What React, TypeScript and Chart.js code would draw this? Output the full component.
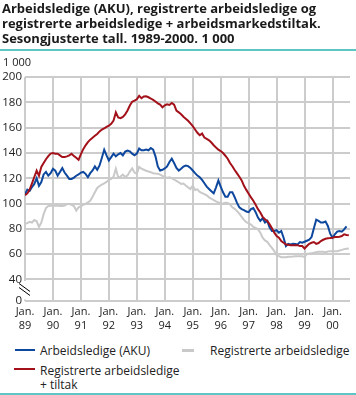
import React, { useEffect, useRef } from 'react';
import { Chart, registerables } from 'chart.js';

Chart.register(...registerables);

// Monthly series, first value = January 1989 (index = months since Jan. 1989)
const xTickYears = ['89', '90', '91', '92', '93', '94', '95', '96', '97', '98', '99', '00'];
const yTickValues = [40, 60, 80, 100, 120, 140, 160, 180, 200];
const axisFloor = 23; // broken axis: bottom line stands for 0
const lastMonth = 139.5;

const akuValues = [
  107.5, 111, 110, 113, 115.5, 120, 114, 117, 123, 125, 122, 124,
  127.5, 126, 122, 125, 128, 124.5, 122, 119.5, 119.5, 120.5, 122, 123,
  124.5, 125, 123.5, 120.8, 124, 126.1, 129.3, 126.7, 130.1, 136.2, 142.5, 138.1,
  134.1, 136.7, 139.4, 137.3, 138.9, 139.9, 138.1, 141, 141.8, 141.3, 139.4, 138.1,
  139.4, 143.4, 142.1, 142.1, 142.6, 142.1, 143.9, 142.6, 137.3, 129.3, 126.1, 126.7,
  127.7, 129.3, 132.8, 135.4, 132, 128.2, 126.1, 127.5, 129.3, 130.1, 129.6, 128.2,
  126.1, 124, 122.1, 120.8, 118.7, 116, 113.4, 111.5, 109.7, 108.1, 112.8, 118.2,
  113.4, 108.9, 105.4, 105.4, 109, 109, 105, 100.5, 97, 95.6, 94.8, 93.7,
  93.2, 95.6, 96.4, 93.2, 88.9, 86.3, 88.4, 85, 86.3, 81, 78.3, 78.3,
  78.9, 77, 78.3, 73, 66.4, 68.2, 67.7, 68.2, 68, 67.7, 69.6, 69,
  69.8, 70.6, 71.4, 73.5, 80.4, 87.3, 86.3, 85, 85, 85.8, 82.3, 76.2,
  73, 75.7, 77.8, 78.3, 77.8, 79.6, 82,
];

const tiltakValues = [
  106.5, 108, 111, 116, 121, 126, 122, 129, 132, 135, 137.5, 139.5,
  139.9, 139.4, 139.4, 138.1, 136.7, 136.7, 137.3, 138.1, 139.4, 137.5, 136.2, 134.5,
  139, 143, 146, 148.5, 150.5, 152, 153.5, 155, 157, 158.5, 159.5, 160.5,
  161.5, 163, 165.5, 172, 168, 167.5, 168.5, 170.5, 173.5, 177.5, 180.5,
  181.4, 182.4, 185.1, 183.2, 184.6, 184.8, 184, 183, 181.9, 180.6, 179.2, 178.2,
  176, 177.6, 178.4, 177.9, 179.5, 178.2, 173.4, 172.1, 170.5, 168.6, 167, 165.4,
  163.3, 161.2, 158.5, 155.9, 154, 155.3, 152.1, 151.1, 150, 148.2, 146.1, 144.2,
  142.6, 141.5, 139.9, 137.8, 135.4, 132,
  129.5, 126.5, 123.8, 121.2, 118.3, 114, 110.8, 107.8, 104.9,
  102.2, 99, 95.6, 92.9, 89.5, 87.6, 86.3, 83.6, 80.4, 77,
  74.3, 73, 70.4, 69, 67.7, 67.4, 67.1, 67.1, 67.1, 67.1, 66.4, 66.4,
  64.5, 66.4, 68.2, 69, 69.6, 68.2, 68.8, 70.4, 71.4, 72.2, 72.5, 72.7,
  73, 73.5, 73.5, 73.8, 74.3, 75.7, 75.1, 74.9,
];

const registrerteValues = [
  84, 84.5, 85.5, 85, 87, 86, 81.5, 85, 91.6, 96.4, 98, 98.2,
  98.2, 98.2, 98.5, 98, 98, 98.5, 99.6, 99.6, 99, 98, 94.5, 97,
  98, 99, 99.8, 100.9, 102.2, 105.4, 108.9, 112.3, 113.9, 115, 116, 117.1,
  118.7, 119.5, 121.3, 127.5, 120.8, 121.3, 122.9, 121, 122.2, 125.3, 127.8,
  124.5, 123.5, 129, 127.5, 126.7, 125.9, 125.3, 124.8, 124, 123.7, 123.5, 122.9,
  121.9, 121.1, 120.3, 120.8, 120, 119, 117.9, 116.8, 115.5, 115.8, 114.2, 112.8,
  111.5, 114.2, 110.7, 111.2, 109.1, 108.3, 107.5, 106.5, 104.9, 103.8, 102.7, 101.7,
  100.9, 100.1, 100.1, 100.6, 100.4, 99.3,
  97, 95.8, 94, 92, 89.5, 87.1, 85.2, 84.4, 83.4,
  81.5, 80.7, 79.6, 77, 73, 70.9, 69.8, 67.2, 65, 62.4,
  59.2, 58.4, 57.6, 57.6, 57.6, 57.9, 57.9, 58.1, 58.4, 58.4, 58.4, 58.4,
  57.6, 60.3, 60.5, 60.8, 61.1, 61.6, 61.9, 61.9, 61.9, 61.6, 62.1, 62.4,
  62.4, 62.4, 62.4, 62.9, 63.4, 64, 64.3, 64.5,
];

const BLUE = '#0d479e';
const RED = '#a3111a';
const GRAY = '#c9c9c9';
const TEAL = '#5ec5c5';
const GRID = '#cccccc';
const FONT = '"Open Sans", sans-serif';

const toPoints = (vals: number[]) => vals.map((v, i) => ({ x: i / 12, y: v }));

const axisBreak = {
  id: 'axisBreak',
  afterDraw(chart: any) {
    const { ctx, chartArea, scales } = chart;
    const y40 = scales.y.getPixelForValue(40);
    const left = chartArea.left;
    ctx.save();
    ctx.fillStyle = '#ffffff';
    ctx.fillRect(left - 1.5, y40 + 1.5, 3, chartArea.bottom - y40 - 3);
    ctx.strokeStyle = '#000000';
    ctx.lineWidth = 1;
    ctx.beginPath();
    ctx.moveTo(left - 6, y40 + 4);
    ctx.lineTo(left + 5, y40 + 12);
    ctx.moveTo(left - 6, y40 + 8);
    ctx.lineTo(left + 5, y40 + 16);
    ctx.stroke();
    ctx.restore();
  },
};

function LineChart() {
  const ref = useRef<HTMLCanvasElement>(null);
  useEffect(() => {
    if (!ref.current) return;
    const chart = new Chart(ref.current, {
      type: 'line',
      data: {
        datasets: [
          { label: 'Registrerte arbeidsledige', data: toPoints(registrerteValues), borderColor: GRAY, borderWidth: 2, pointRadius: 0, tension: 0 },
          { label: 'Registrerte arbeidsledige + tiltak', data: toPoints(tiltakValues), borderColor: RED, borderWidth: 2, pointRadius: 0, tension: 0 },
          { label: 'Arbeidsledige (AKU)', data: toPoints(akuValues), borderColor: BLUE, borderWidth: 2, pointRadius: 0, tension: 0 },
        ],
      },
      options: {
        responsive: false,
        animation: false,
        devicePixelRatio: 1,
        layout: { padding: { top: 77, right: 6, left: 0, bottom: 0 } },
        plugins: { legend: { display: false }, tooltip: { enabled: false } },
        scales: {
          x: {
            type: 'linear',
            min: 0,
            max: lastMonth / 12,
            afterBuildTicks: (scale: any) => {
              scale.ticks = xTickYears.map((_, i) => ({ value: i }));
            },
            afterFit: (scale: any) => { scale.height = 39; },
            grid: { color: GRID, lineWidth: 2, drawTicks: false },
            border: { display: false },
            ticks: {
              autoSkip: false,
              maxRotation: 0,
              padding: 4,
              color: '#222',
              font: { family: FONT, size: 11, lineHeight: 1.27 },
              callback: (v: any) => ['Jan.', xTickYears[Math.round(Number(v))]],
            },
          },
          y: {
            type: 'linear',
            min: axisFloor,
            max: 200,
            afterBuildTicks: (scale: any) => {
              scale.ticks = [axisFloor, ...yTickValues].map((v) => ({ value: v }));
            },
            afterFit: (scale: any) => { scale.width = 25; },
            grid: { color: GRID, lineWidth: 2, drawTicks: false },
            border: { display: false },
            ticks: {
              padding: 3,
              color: '#222',
              font: { family: FONT, size: 11.5 },
              callback: (v: any) => (Number(v) === axisFloor ? '0' : String(v)),
            },
          },
        },
      },
      plugins: [axisBreak],
    } as any);
    return () => chart.destroy();
  }, []);
  return <canvas ref={ref} width={356} height={340} style={{ position: 'absolute', left: 0, top: 0, width: 356, height: 340 }} />;
}

export default function App() {
  const text: React.CSSProperties = { position: 'absolute', fontFamily: FONT, color: '#222', whiteSpace: 'nowrap' };
  return (
    <div style={{ position: 'absolute', left: 0, top: 0, width: 356, height: 395, background: '#fff', overflow: 'hidden' }}>
      <LineChart />
      <div style={{ ...text, left: 2, top: 1, fontSize: 13, fontWeight: 700, lineHeight: '15px', color: '#1a1a1a' }}>
        <div>Arbeidsledige (AKU), registrerte arbeidsledige og</div>
        <div>registrerte arbeidsledige + arbeidsmarkedstiltak.</div>
        <div>Sesongjusterte tall. 1989-2000. 1 000</div>
      </div>
      <div style={{ position: 'absolute', left: 0, top: 49, width: 356, height: 2, background: TEAL }} />
      <div style={{ ...text, left: 3, top: 55, fontSize: 11, lineHeight: '14px' }}>1 000</div>

      <div style={{ position: 'absolute', left: 15, top: 349, width: 20, height: 2, background: BLUE }} />
      <div style={{ ...text, left: 40, top: 343, fontSize: 12, lineHeight: '15px' }}>Arbeidsledige (AKU)</div>
      <div style={{ position: 'absolute', left: 182, top: 349, width: 12, height: 3, background: GRAY }} />
      <div style={{ ...text, left: 210, top: 343, fontSize: 12, lineHeight: '15px' }}>Registrerte arbeidsledige</div>
      <div style={{ position: 'absolute', left: 14, top: 368, width: 21, height: 2, background: RED }} />
      <div style={{ ...text, left: 40, top: 364, fontSize: 12, lineHeight: '14px' }}>
        <div>Registrerte arbeidsledige</div>
        <div>+ tiltak</div>
      </div>
      <div style={{ position: 'absolute', left: 0, top: 393, width: 356, height: 2, background: TEAL }} />
    </div>
  );
}
